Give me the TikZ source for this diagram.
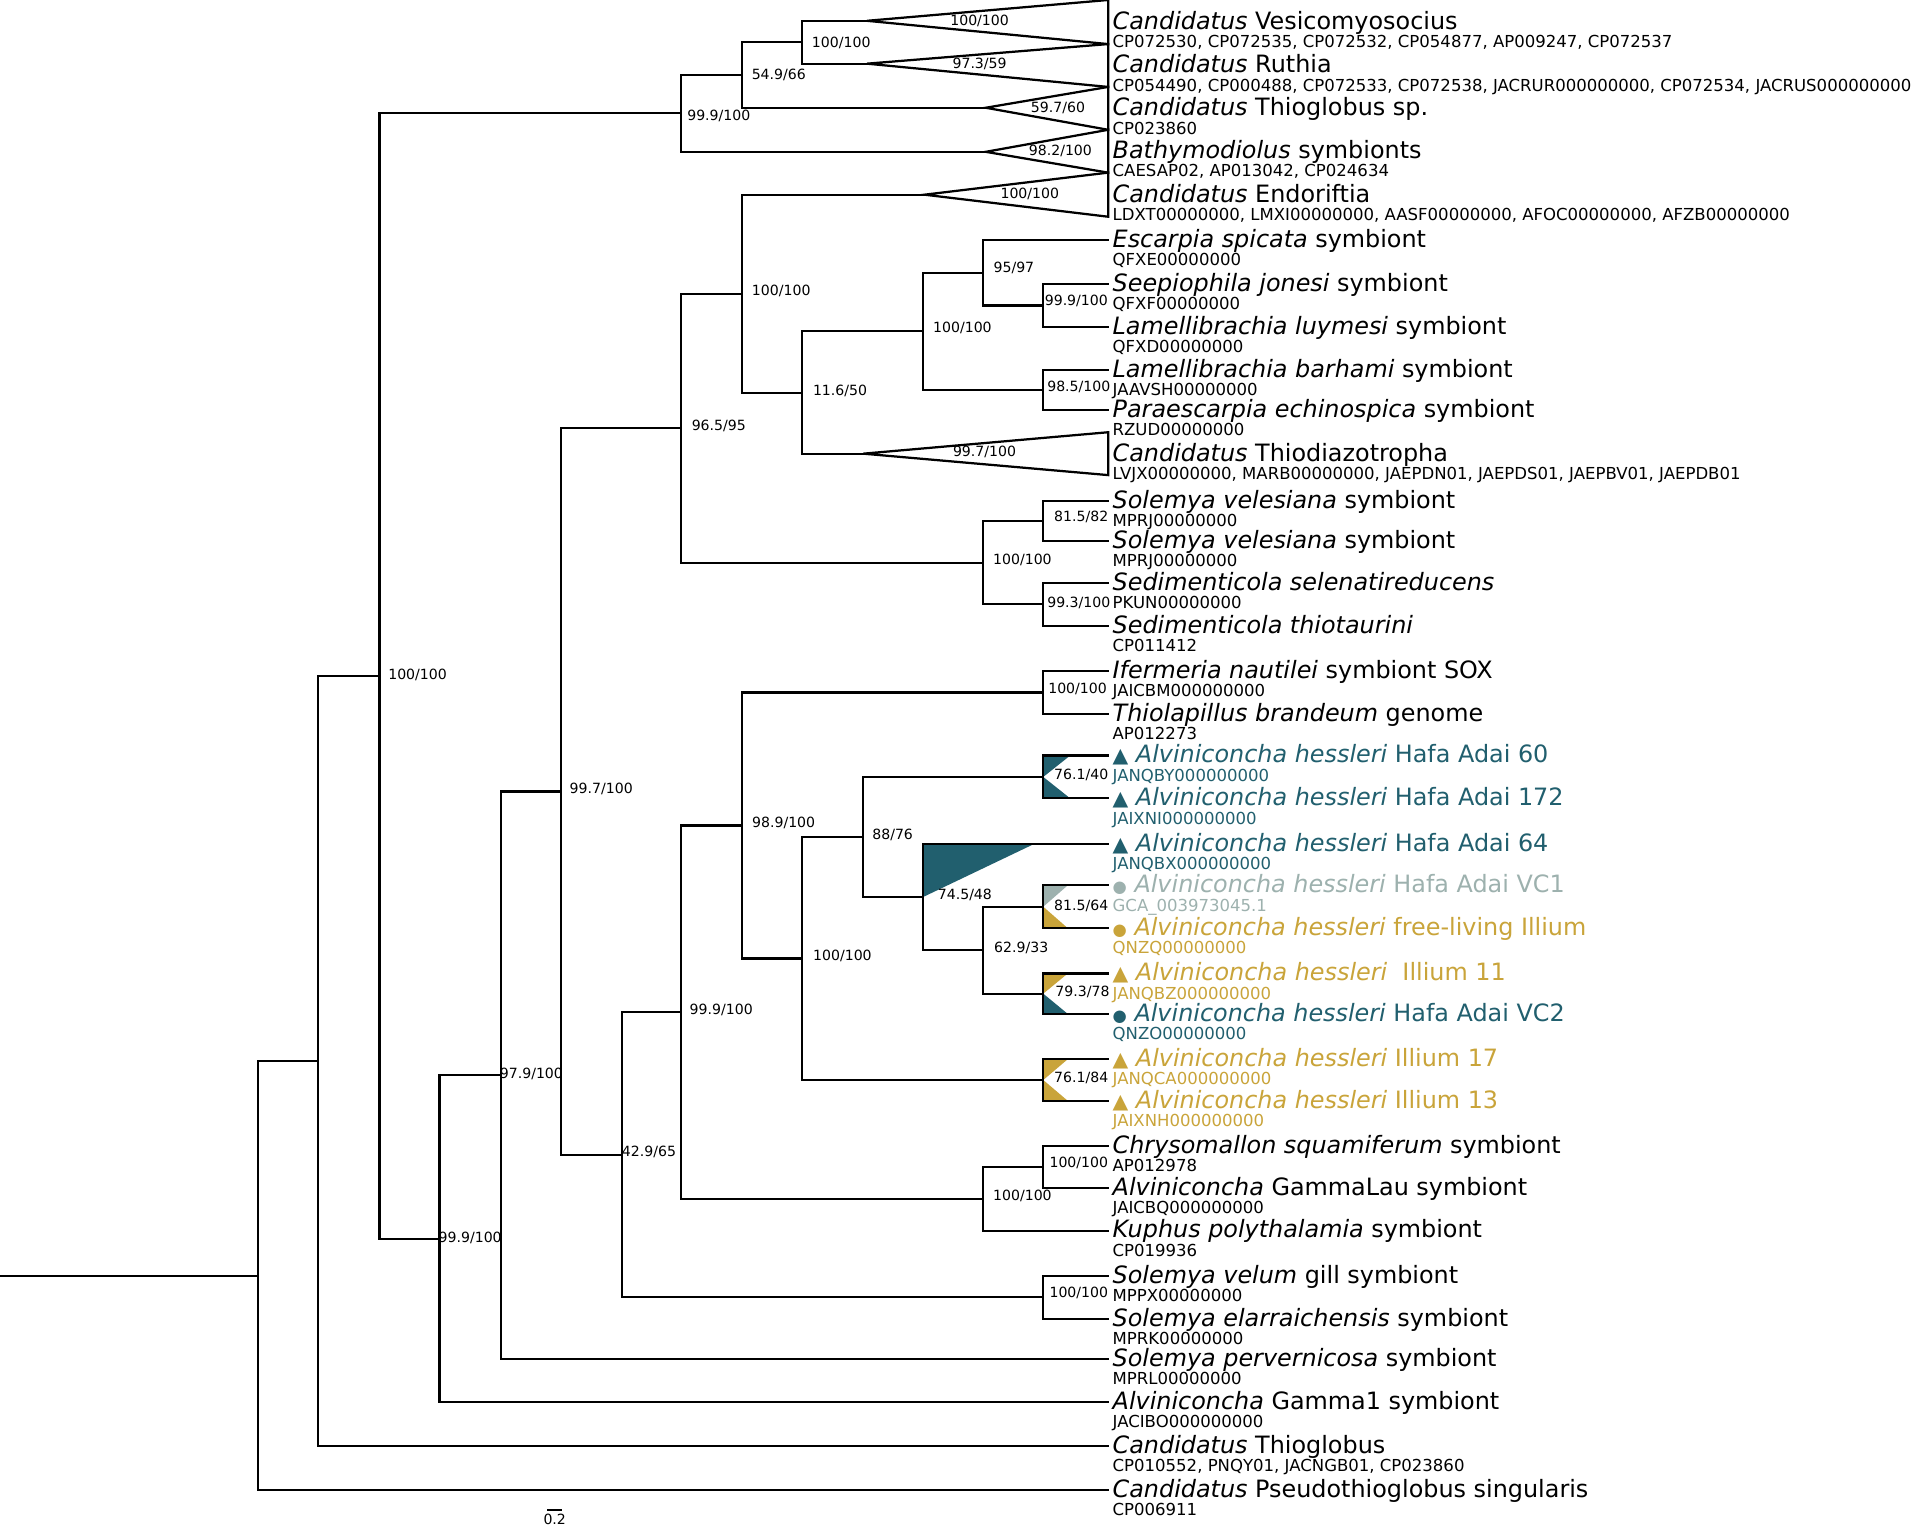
\documentclass[tikz,border=0pt]{standalone}
\usepackage{fontspec}
\setmainfont{DejaVu Sans}
\definecolor{hafa}{RGB}{33,95,110}
\definecolor{illium}{RGB}{201,164,58}
\definecolor{vcone}{RGB}{157,177,174}
\newcommand{\trimark}{{\fontsize{10}{10}\selectfont ▲}}
\newcommand{\dotmark}{{\fontsize{8}{8}\selectfont ●}}

\begin{document}
\begin{tikzpicture}[x=0.6pt, y=-0.6pt,
        br/.style={line width=1.1pt, line cap=rect},
        sp/.style={anchor=base west, inner sep=0pt, xshift=2pt, yshift=-3.6pt, font=\fontsize{11.7}{14}\selectfont},
        acc/.style={anchor=base west, inner sep=0pt, xshift=2pt, yshift=-12.6pt, font=\fontsize{8.1}{9}\selectfont},
        bs/.style={inner sep=0pt, font=\fontsize{6.9}{8}\selectfont}
    ]
        \useasboundingbox (0,0) rectangle (1568,1246);

        % coloured wedges
        \fill[hafa] (852,617) -- (874,617) -- (852,634.5) -- cycle;
        \fill[hafa] (852,634.5) -- (874,652) -- (852,652) -- cycle;
        \fill[hafa] (754,689) -- (845,689) -- (754,732.5) -- cycle;
        \fill[vcone] (852,723) -- (872,723) -- (852,740.5) -- cycle;
        \fill[illium] (852,740.5) -- (872,758) -- (852,758) -- cycle;
        \fill[illium] (852,795) -- (872,795) -- (852,811.5) -- cycle;
        \fill[hafa] (852,811.5) -- (872,828) -- (852,828) -- cycle;
        \fill[illium] (852,865) -- (872,865) -- (852,882) -- cycle;
        \fill[illium] (852,882) -- (872,899) -- (852,899) -- cycle;

        % collapsed clades
        \coordinate (ves) at (708,17);
        \coordinate (rut) at (708,52);
        \coordinate (tgs) at (805,88);
        \coordinate (bat) at (805,124);
        \coordinate (endo) at (755,159);
        \coordinate (tdz) at (705,370.5);
        \draw[br] (ves) -- (905,0) -- (905,36) -- cycle;
        \draw[br] (rut) -- (905,36) -- (905,71) -- cycle;
        \draw[br] (tgs) -- (905,71) -- (905,106) -- cycle;
        \draw[br] (bat) -- (905,106) -- (905,141) -- cycle;
        \draw[br] (endo) -- (905,141) -- (905,177) -- cycle;
        \draw[br] (tdz) -- (905,353) -- (905,388) -- cycle;

        % tips
        \coordinate (vesT) at (905,18);
        \coordinate (rutT) at (905,53.5);
        \coordinate (tgsT) at (905,88.5);
        \coordinate (batT) at (905,123.5);
        \coordinate (endoT) at (905,159);
        \coordinate (esc) at (905,196);
        \coordinate (see) at (905,232);
        \coordinate (llu) at (905,267);
        \coordinate (lba) at (905,302);
        \coordinate (par) at (905,335);
        \coordinate (tdzT) at (905,370.5);
        \coordinate (sva) at (905,409);
        \coordinate (svb) at (905,442);
        \coordinate (sse) at (905,476);
        \coordinate (sth) at (905,511);
        \coordinate (ife) at (905,548);
        \coordinate (thl) at (905,583);
        \coordinate (ha60) at (905,617);
        \coordinate (ha172) at (905,652);
        \coordinate (ha64) at (905,689);
        \coordinate (vc1) at (905,723);
        \coordinate (fli) at (905,758);
        \coordinate (il11) at (905,795);
        \coordinate (vc2) at (905,828);
        \coordinate (il17) at (905,865);
        \coordinate (il13) at (905,899);
        \coordinate (chr) at (905,936);
        \coordinate (gla) at (905,970);
        \coordinate (kup) at (905,1005);
        \coordinate (svl) at (905,1042);
        \coordinate (sel) at (905,1077);
        \coordinate (spv) at (905,1110);
        \coordinate (ga1) at (905,1145);
        \coordinate (tgl) at (905,1181);
        \coordinate (pst) at (905,1217);

        % inner nodes
        \coordinate (nA) at (655,34.5);
        \coordinate (nB) at (606,61);
        \coordinate (nC) at (556,92.5);
        \coordinate (n95) at (803,222.75);
        \coordinate (n999) at (852,249.5);
        \coordinate (nL100) at (754,270.6);
        \coordinate (n985) at (852,318.5);
        \coordinate (n116) at (655,320.8);
        \coordinate (nE100) at (606,239.9);
        \coordinate (n815) at (852,425.5);
        \coordinate (n993) at (852,493.5);
        \coordinate (nS100) at (803,459.5);
        \coordinate (n965) at (556,349.7);
        \coordinate (nIf) at (852,565.5);
        \coordinate (n761a) at (852,634.5);
        \coordinate (n815b) at (852,740.5);
        \coordinate (n793) at (852,811.5);
        \coordinate (n761b) at (852,882);
        \coordinate (n629) at (803,776);
        \coordinate (n745) at (754,732.5);
        \coordinate (n88) at (705,683.5);
        \coordinate (nAl100) at (655,782.75);
        \coordinate (n989) at (606,674.1);
        \coordinate (nCh) at (852,953);
        \coordinate (nCK) at (803,979);
        \coordinate (n999b) at (556,826.6);
        \coordinate (nSV) at (852,1059.5);
        \coordinate (n429) at (508,943);
        \coordinate (n997) at (458,646.4);
        \coordinate (n979) at (409,878.2);
        \coordinate (n999c) at (359,1011.6);
        \coordinate (n100r) at (310,552);
        \coordinate (nR2) at (260,866.5);
        \coordinate (root) at (211,1041.75);
        \coordinate (base) at (0,1041.75);

        % branches
        \draw[br] (nA) |- (ves) (nA) |- (rut);
        \draw[br] (nB) |- (nA) (nB) |- (tgs);
        \draw[br] (nC) |- (nB) (nC) |- (bat);
        \draw[br] (n999) |- (see) (n999) |- (llu);
        \draw[br] (n95) |- (esc) (n95) |- (n999);
        \draw[br] (n985) |- (lba) (n985) |- (par);
        \draw[br] (nL100) |- (n95) (nL100) |- (n985);
        \draw[br] (n116) |- (nL100) (n116) |- (tdz);
        \draw[br] (nE100) |- (endo) (nE100) |- (n116);
        \draw[br] (n815) |- (sva) (n815) |- (svb);
        \draw[br] (n993) |- (sse) (n993) |- (sth);
        \draw[br] (nS100) |- (n815) (nS100) |- (n993);
        \draw[br] (n965) |- (nE100) (n965) |- (nS100);
        \draw[br] (nIf) |- (ife) (nIf) |- (thl);
        \draw[br] (n761a) |- (ha60) (n761a) |- (ha172);
        \draw[br] (n815b) |- (vc1) (n815b) |- (fli);
        \draw[br] (n793) |- (il11) (n793) |- (vc2);
        \draw[br] (n761b) |- (il17) (n761b) |- (il13);
        \draw[br] (n629) |- (n815b) (n629) |- (n793);
        \draw[br] (n745) |- (ha64) (n745) |- (n629);
        \draw[br] (n88) |- (n761a) (n88) |- (n745);
        \draw[br] (nAl100) |- (n88) (nAl100) |- (n761b);
        \draw[br] (n989) |- (nIf) (n989) |- (nAl100);
        \draw[br] (nCh) |- (chr) (nCh) |- (gla);
        \draw[br] (nCK) |- (nCh) (nCK) |- (kup);
        \draw[br] (n999b) |- (n989) (n999b) |- (nCK);
        \draw[br] (nSV) |- (svl) (nSV) |- (sel);
        \draw[br] (n429) |- (n999b) (n429) |- (nSV);
        \draw[br] (n997) |- (n965) (n997) |- (n429);
        \draw[br] (n979) |- (n997) (n979) |- (spv);
        \draw[br] (n999c) |- (n979) (n999c) |- (ga1);
        \draw[br] (n100r) |- (nC) (n100r) |- (n999c);
        \draw[br] (nR2) |- (n100r) (nR2) |- (tgl);
        \draw[br] (root) |- (nR2) (root) |- (pst);
        \draw[br] (base) -- (root);

        % support values
        \node[bs] (bA) at (687,35) {100/100};
        \node[bs] (bVes) at (800,17) {100/100};
        \node[bs] (bRut) at (800,52) {97.3/59};
        \node[bs] (bB) at (636,61) {54.9/66};
        \node[bs] (bC) at (587,95) {99.9/100};
        \node[bs] (bTgs) at (864,88) {59.7/60};
        \node[bs] (bBat) at (866,123) {98.2/100};
        \node[bs] (bEndo) at (841,158) {100/100};
        \node[bs] (bE100) at (638,238) {100/100};
        \node[bs] (b95) at (828,219) {95/97};
        \node[bs] (b999) at (879,246) {99.9/100};
        \node[bs] (bL100) at (786,268) {100/100};
        \node[bs] (b985) at (881,316) {98.5/100};
        \node[bs] (b116) at (686,319) {11.6/50};
        \node[bs] (bTdz) at (804,369) {99.7/100};
        \node[bs] (b965) at (587,348) {96.5/95};
        \node[bs] (b815) at (883,422) {81.5/82};
        \node[bs] (bS100) at (835,457) {100/100};
        \node[bs] (b993) at (881,492) {99.3/100};
        \node[bs] (b100r) at (341,551) {100/100};
        \node[bs] (bIf) at (880,563) {100/100};
        \node[bs] (b761a) at (883,633) {76.1/40};
        \node[bs] (b997) at (491,644) {99.7/100};
        \node[bs] (b989) at (640,672) {98.9/100};
        \node[bs] (b88) at (729,682) {88/76};
        \node[bs] (b745) at (788,731) {74.5/48};
        \node[bs] (b815b) at (883,740) {81.5/64};
        \node[bs] (b629) at (834,774) {62.9/33};
        \node[bs] (bAl100) at (688,781) {100/100};
        \node[bs] (b793) at (884,810) {79.3/78};
        \node[bs] (b999b) at (589,825) {99.9/100};
        \node[bs] (b979) at (434,877) {97.9/100};
        \node[bs] (b761b) at (883,880) {76.1/84};
        \node[bs] (b429) at (530,941) {42.9/65};
        \node[bs] (bCh) at (881,950) {100/100};
        \node[bs] (bCK) at (835,977) {100/100};
        \node[bs] (b999c) at (384,1011) {99.9/100};
        \node[bs] (bSV) at (881,1056) {100/100};

        % labels
        \node[sp] (vesL) at (vesT) {\textit{Candidatus} Vesicomyosocius};
        \node[acc] (vesID) at (vesT) {CP072530, CP072535, CP072532, CP054877, AP009247, CP072537};
        \node[sp] (rutL) at (rutT) {\textit{Candidatus} Ruthia};
        \node[acc] (rutID) at (rutT) {CP054490, CP000488, CP072533, CP072538, JACRUR000000000, CP072534, JACRUS000000000};
        \node[sp] (tgsL) at (tgsT) {\textit{Candidatus} Thioglobus sp.};
        \node[acc] (tgsID) at (tgsT) {CP023860};
        \node[sp] (batL) at (batT) {\textit{Bathymodiolus} symbionts};
        \node[acc] (batID) at (batT) {CAESAP02, AP013042, CP024634};
        \node[sp] (endoL) at (endoT) {\textit{Candidatus} Endoriftia};
        \node[acc] (endoID) at (endoT) {LDXT00000000, LMXI00000000, AASF00000000, AFOC00000000, AFZB00000000};
        \node[sp] (escL) at (esc) {\textit{Escarpia spicata} symbiont};
        \node[acc] (escID) at (esc) {QFXE00000000};
        \node[sp] (seeL) at (see) {\textit{Seepiophila jonesi} symbiont};
        \node[acc] (seeID) at (see) {QFXF00000000};
        \node[sp] (lluL) at (llu) {\textit{Lamellibrachia luymesi} symbiont};
        \node[acc] (lluID) at (llu) {QFXD00000000};
        \node[sp] (lbaL) at (lba) {\textit{Lamellibrachia barhami} symbiont};
        \node[acc] (lbaID) at (lba) {JAAVSH00000000};
        \node[sp] (parL) at (par) {\textit{Paraescarpia echinospica} symbiont};
        \node[acc] (parID) at (par) {RZUD00000000};
        \node[sp] (tdzL) at (tdzT) {\textit{Candidatus} Thiodiazotropha};
        \node[acc] (tdzID) at (tdzT) {LVJX00000000, MARB00000000, JAEPDN01, JAEPDS01, JAEPBV01, JAEPDB01};
        \node[sp] (svaL) at (sva) {\textit{Solemya velesiana} symbiont};
        \node[acc] (svaID) at (sva) {MPRJ00000000};
        \node[sp] (svbL) at (svb) {\textit{Solemya velesiana} symbiont};
        \node[acc] (svbID) at (svb) {MPRJ00000000};
        \node[sp] (sseL) at (sse) {\textit{Sedimenticola selenatireducens}};
        \node[acc] (sseID) at (sse) {PKUN00000000};
        \node[sp] (sthL) at (sth) {\textit{Sedimenticola thiotaurini}};
        \node[acc] (sthID) at (sth) {CP011412};
        \node[sp] (ifeL) at (ife) {\textit{Ifermeria nautilei} symbiont SOX};
        \node[acc] (ifeID) at (ife) {JAICBM000000000};
        \node[sp] (thlL) at (thl) {\textit{Thiolapillus brandeum} genome};
        \node[acc] (thlID) at (thl) {AP012273};
        \node[sp, hafa] (ha60L) at (ha60) {\trimark{} \textit{Alviniconcha hessleri} Hafa Adai 60};
        \node[acc, hafa] (ha60ID) at (ha60) {JANQBY000000000};
        \node[sp, hafa] (ha172L) at (ha172) {\trimark{} \textit{Alviniconcha hessleri} Hafa Adai 172};
        \node[acc, hafa] (ha172ID) at (ha172) {JAIXNI000000000};
        \node[sp, hafa] (ha64L) at (ha64) {\trimark{} \textit{Alviniconcha hessleri} Hafa Adai 64};
        \node[acc, hafa] (ha64ID) at (ha64) {JANQBX000000000};
        \node[sp, vcone] (vc1L) at (vc1) {\dotmark{} \textit{Alviniconcha hessleri} Hafa Adai VC1};
        \node[acc, vcone] (vc1ID) at (vc1) {GCA\_003973045.1};
        \node[sp, illium] (fliL) at (fli) {\dotmark{} \textit{Alviniconcha hessleri} free-living Illium};
        \node[acc, illium] (fliID) at (fli) {QNZQ00000000};
        \node[sp, illium] (il11L) at (il11) {\trimark{} \textit{Alviniconcha hessleri}\ \ Illium 11};
        \node[acc, illium] (il11ID) at (il11) {JANQBZ000000000};
        \node[sp, hafa] (vc2L) at (vc2) {\dotmark{} \textit{Alviniconcha hessleri} Hafa Adai VC2};
        \node[acc, hafa] (vc2ID) at (vc2) {QNZO00000000};
        \node[sp, illium] (il17L) at (il17) {\trimark{} \textit{Alviniconcha hessleri} Illium 17};
        \node[acc, illium] (il17ID) at (il17) {JANQCA000000000};
        \node[sp, illium] (il13L) at (il13) {\trimark{} \textit{Alviniconcha hessleri} Illium 13};
        \node[acc, illium] (il13ID) at (il13) {JAIXNH000000000};
        \node[sp] (chrL) at (chr) {\textit{Chrysomallon squamiferum} symbiont};
        \node[acc] (chrID) at (chr) {AP012978};
        \node[sp] (glaL) at (gla) {\textit{Alviniconcha} GammaLau symbiont};
        \node[acc] (glaID) at (gla) {JAICBQ000000000};
        \node[sp] (kupL) at (kup) {\textit{Kuphus polythalamia} symbiont};
        \node[acc] (kupID) at (kup) {CP019936};
        \node[sp] (svlL) at (svl) {\textit{Solemya velum} gill symbiont};
        \node[acc] (svlID) at (svl) {MPPX00000000};
        \node[sp] (selL) at (sel) {\textit{Solemya elarraichensis} symbiont};
        \node[acc] (selID) at (sel) {MPRK00000000};
        \node[sp] (spvL) at (spv) {\textit{Solemya pervernicosa} symbiont};
        \node[acc] (spvID) at (spv) {MPRL00000000};
        \node[sp] (ga1L) at (ga1) {\textit{Alviniconcha} Gamma1 symbiont};
        \node[acc] (ga1ID) at (ga1) {JACIBO000000000};
        \node[sp] (tglL) at (tgl) {\textit{Candidatus} Thioglobus};
        \node[acc] (tglID) at (tgl) {CP010552, PNQY01, JACNGB01, CP023860};
        \node[sp] (pstL) at (pst) {\textit{Candidatus} Pseudothioglobus singularis};
        \node[acc] (pstID) at (pst) {CP006911};

        % scale bar
        \coordinate (sbA) at (447,1233);
        \coordinate (sbB) at (459,1233);
        \draw[line width=0.7pt] (sbA) -- (sbB);
        \node[bs] (sbL) at (453,1241) {0.2};
    \end{tikzpicture}
\end{document}
